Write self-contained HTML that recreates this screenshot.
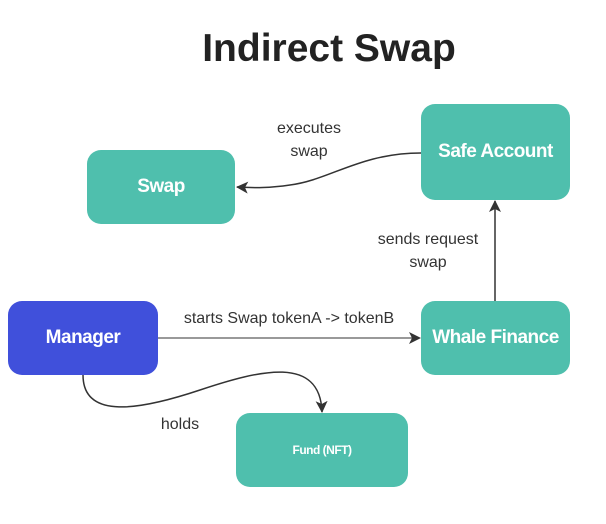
<!DOCTYPE html>
<html><head><style>
body{margin:0;width:606px;height:524px;background:#fff;position:relative;overflow:hidden;font-family:"Liberation Sans",sans-serif}
.b{position:absolute;background:#4fbfad;border-radius:14px;color:#fff;font-weight:bold;display:flex;align-items:center;justify-content:center;font-size:19px;letter-spacing:-0.5px}
.t{position:absolute;color:#333;font-size:16px;text-align:center;line-height:23px}
</style></head><body>
<div style="position:absolute;left:0;width:658px;top:27px;text-align:center;font-size:39px;font-weight:bold;color:#222">Indirect Swap</div>
<svg width="606" height="524" style="position:absolute;left:0;top:0">
<defs><marker id="a" markerWidth="12" markerHeight="12" refX="11" refY="6" orient="auto" markerUnits="userSpaceOnUse"><path d="M0,0 L12,6 L0,12 L3,6z" fill="#333"/></marker></defs>
<g fill="none" stroke="#333" stroke-width="1.5">
<path d="M421,153 C360,153 330,180 290,185 C270,188 255,188 237,187" marker-end="url(#a)"/>
<path d="M495,301 L495,201" marker-end="url(#a)"/>
<path d="M158,338 L420,338" marker-end="url(#a)" stroke-width="1"/>
<path d="M83,375 C83,420 140,410 200,390 C260,370 320,355 322,412" marker-end="url(#a)"/>
</g></svg>
<div class="b" style="left:87px;top:150px;width:148px;height:74px">Swap</div>
<div class="b" style="left:421px;top:104px;width:149px;height:96px">Safe Account</div>
<div class="b" style="left:8px;top:301px;width:150px;height:74px;background:#4050db">Manager</div>
<div class="b" style="left:421px;top:301px;width:149px;height:74px">Whale Finance</div>
<div class="b" style="left:236px;top:413px;width:172px;height:74px;font-size:12px">Fund (NFT)</div>
<div class="t" style="left:259px;top:117px;width:100px">executes<br>swap</div>
<div class="t" style="left:358px;top:228px;width:140px">sends request<br>swap</div>
<div class="t" style="left:160px;top:307px;width:258px">starts Swap tokenA -&gt; tokenB</div>
<div class="t" style="left:150px;top:413px;width:60px">holds</div>
</body></html>
